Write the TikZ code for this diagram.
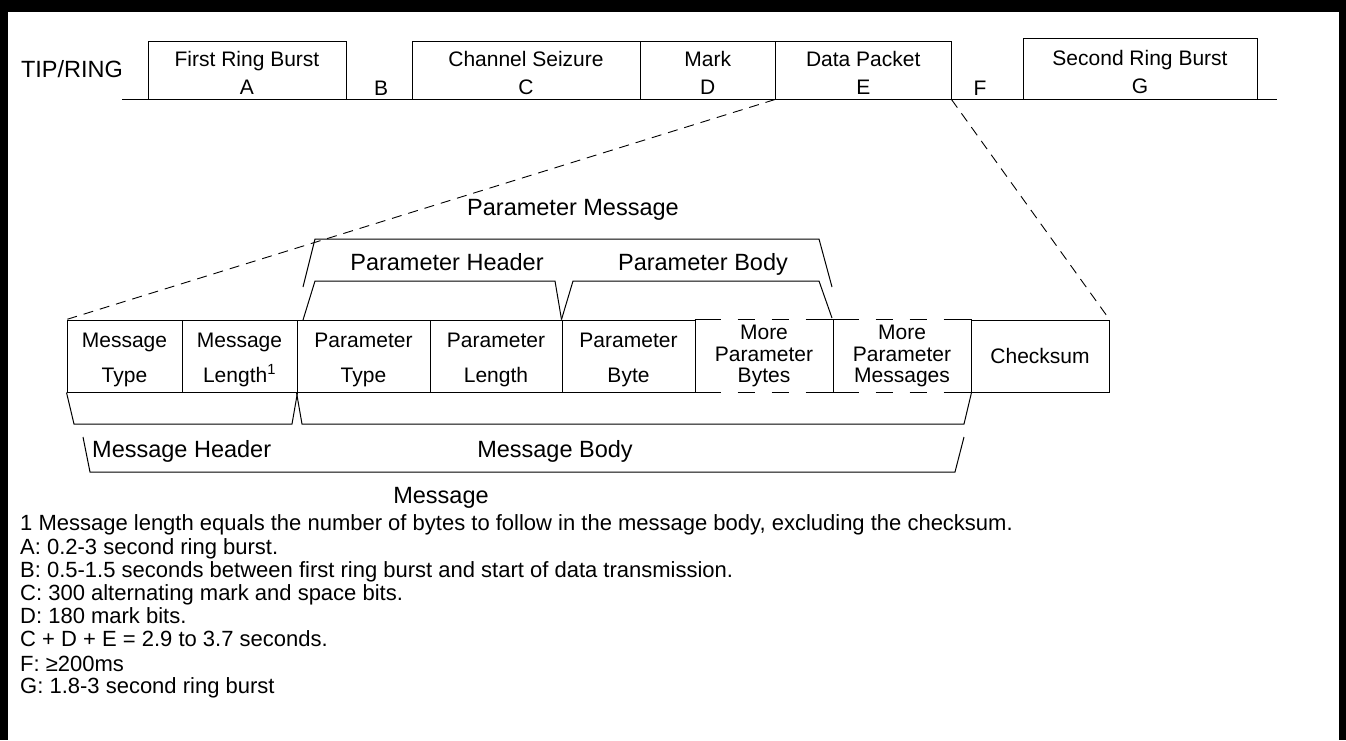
\documentclass[tikz,border=0pt]{standalone}
\usepackage{fontspec}
\setmainfont{Liberation Sans}
\usepackage{tikz}

% pushes the first text line of a cell down a little
\newcommand{\lift}{\rule{0pt}{21.5pt}}

\begin{document}
\begin{tikzpicture}[x=1pt,y=-1pt,
    seg/.style={draw=black, line width=1pt, inner sep=0pt, minimum height=58pt, align=center, font=\fontsize{21}{28}\selectfont},
    cell/.style={draw=black, line width=1pt, inner sep=0pt, minimum height=72pt, align=center, font=\fontsize{21}{35}\selectfont},
    opencell/.style={cell, draw=none, font=\fontsize{21}{21.5}\selectfont},
    big/.style={inner sep=0pt, anchor=base, font=\fontsize{23.5}{28}\selectfont},
    small/.style={inner sep=0pt, anchor=base, font=\fontsize{21}{25}\selectfont},
    note/.style={inner sep=0pt, anchor=base west, font=\fontsize{22}{24}\selectfont},
    zoomline/.style={line width=0.9pt, dash pattern=on 10pt off 7pt},
    openline/.style={line width=1pt, dash pattern=on 26pt off 17pt on 17pt off 17pt on 17pt off 17pt on 27pt off 0pt}]
    \useasboundingbox (0,0) rectangle (1346,740);

    % Frame
    \fill[black] (0,0) rectangle (1346,12);
    \fill[black] (0,0) rectangle (8,740);
    \fill[black] (1339,0) rectangle (1346,740);

    % TIP/RING line
    \node[big] (tipring) at (72,77) {TIP/RING};
    \draw[line width=1pt] (122,99) -- (1277,99);
    \node[seg, minimum width=198pt] (ringA) at (247,70) {\lift First Ring Burst\\A};
    \node[small] (gapB) at (381,95) {B};
    \node[seg, minimum width=228pt] (seizeC) at (526,70) {\lift Channel Seizure\\C};
    \node[seg, minimum width=135.5pt] (markD) at (707.75,70) {\lift Mark\\D};
    \node[seg, minimum width=175.5pt] (dataE) at (863.25,70) {\lift Data Packet\\E};
    \node[small] (gapF) at (980,95) {F};
    \node[seg, minimum width=234pt, minimum height=60.5pt] (ringG) at (1140,68.75) {\lift Second Ring Burst\\G};

    % Message fields
    \node[cell, minimum width=115pt] (msgtype) at (124.5,356) {\lift Message\\Type};
    \node[cell, minimum width=115pt] (msglen) at (239.5,356) {\lift Message\\Length\textsuperscript{1}};
    \node[cell, minimum width=133pt] (partype) at (363.5,356) {\lift Parameter\\Type};
    \node[cell, minimum width=132pt] (parlen) at (496,356) {\lift Parameter\\Length};
    \node[cell, minimum width=133pt] (parbyte) at (628.5,356) {\lift Parameter\\Byte};
    \node[opencell, minimum width=138pt] (morebytes) at (764,356) {More\\Parameter\\Bytes};
    \node[opencell, minimum width=138pt] (moremsgs) at (902,356) {More\\Parameter\\Messages};
    \node[cell, minimum width=138pt] (checksum) at (1040,356) {Checksum};
    % open (dashed) fields
    \draw[openline] (morebytes.north west) -- (morebytes.north east);
    \draw[openline] (morebytes.south west) -- (morebytes.south east);
    \draw[openline] (moremsgs.north west) -- (moremsgs.north east);
    \draw[openline] (moremsgs.south west) -- (moremsgs.south east);
    \draw[line width=1pt] (morebytes.north east) -- (morebytes.south east);

    % Expansion of the data packet
    \draw[zoomline] (dataE.south west) -- (msgtype.north west);
    \draw[zoomline] (dataE.south east) -- (checksum.north east);

    % Upper braces
    \draw[line width=1pt] (303,287) -- (315,239) -- (819,239) -- (832,287);
    \draw[line width=1pt] (303,320) -- (315,281) -- (555,281) -- (parbyte.north west);
    \draw[line width=1pt] (parbyte.north west) -- (573,281) -- (819,281) -- (832,318);
    \node[big] (parmsg) at (573,215) {Parameter Message};
    \node[big] (parhead) at (447,270) {Parameter Header};
    \node[big] (parbody) at (703,270) {Parameter Body};

    % Lower braces
    \draw[line width=1pt] (msgtype.south west) -- (74,424) -- (292,424) -- (msglen.south east);
    \draw[line width=1pt] (partype.south west) -- (302,424) -- (964,424) -- (moremsgs.south east);
    \draw[line width=1pt] (83,437) -- (90,472) -- (955,472) -- (964,437);
    \node[big, anchor=base west] (msghead) at (92,457) {Message Header};
    \node[big] (msgbody) at (555,457) {Message Body};
    \node[big] (msg) at (441,503) {Message};

    % Notes
    \node[note] (note1) at (20,530) {1 Message length equals the number of bytes to follow in the message body, excluding the checksum.};
    \node[note] (noteA) at (20,554) {A: 0.2-3 second ring burst.};
    \node[note] (noteB) at (20,577) {B: 0.5-1.5 seconds between first ring burst and start of data transmission.};
    \node[note] (noteC) at (20,600) {C: 300 alternating mark and space bits.};
    \node[note] (noteD) at (20,623) {D: 180 mark bits.};
    \node[note] (noteCDE) at (20,646) {C + D + E = 2.9 to 3.7 seconds.};
    \node[note] (noteF) at (20,671) {F: ≥200ms};
    \node[note] (noteG) at (20,693) {G: 1.8-3 second ring burst};
\end{tikzpicture}
\end{document}
